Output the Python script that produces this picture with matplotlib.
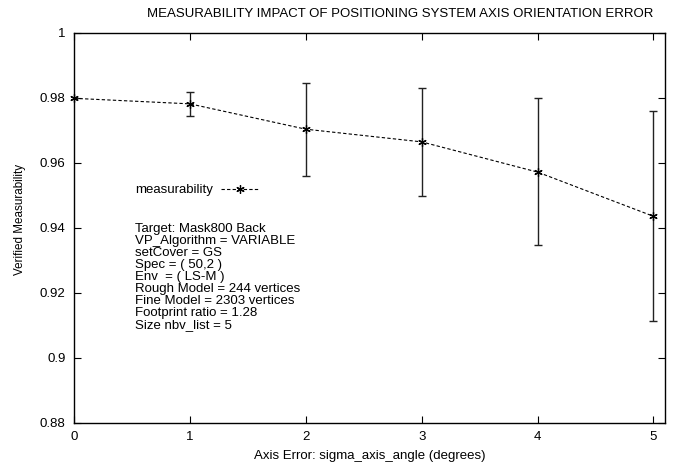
import matplotlib
matplotlib.use('Agg')
import matplotlib.pyplot as plt

# axis error (degrees) vs verified measurability, with min/max spread
sigma = [0, 1, 2, 3, 4, 5]
measurability = [0.9799, 0.9782, 0.9704, 0.9665, 0.9572, 0.9436]
err_low = [0.9799, 0.9746, 0.9561, 0.9498, 0.9347, 0.9115]
err_high = [0.9799, 0.9819, 0.9847, 0.9832, 0.9799, 0.9759]

y_ticks = [0.88, 0.9, 0.92, 0.94, 0.96, 0.98, 1]
y_labels = ['0.88', '0.9', '0.92', '0.94', '0.96', '0.98', '1']

info_lines = [
    'Target: Mask800 Back',
    'VP_Algorithm = VARIABLE',
    'setCover = GS',
    'Spec = ( 50,2 )',
    'Env  = ( LS-M )',
    'Rough Model = 244 vertices',
    'Fine Model = 2303 vertices',
    'Footprint ratio = 1.28',
    'Size nbv_list = 5',
]

FS = 9.5
plt.rcParams['font.family'] = ['Liberation Sans', 'DejaVu Sans']
plt.rcParams['font.size'] = FS

fig = plt.figure(figsize=(6.8, 4.7), dpi=100)
ax = fig.add_axes([0.1088, 0.1, 0.978 - 0.1088, 0.9298 - 0.1])

yerr = [[m - lo for m, lo in zip(measurability, err_low)],
        [hi - m for m, hi in zip(measurability, err_high)]]
ax.errorbar(sigma, measurability, yerr=yerr, fmt='none', ecolor='#222222',
            elinewidth=1.0, capsize=3, capthick=1.0)
ax.plot(sigma, measurability, color='black', linestyle=(0, (3, 2)), linewidth=0.8,
        marker=(6, 2, 0), markersize=6, markeredgewidth=0.9,
        label='measurability', clip_on=False, zorder=5)

ax.set_xlim(0, 5.1)
ax.set_ylim(0.88, 1)
ax.set_xticks(sigma)
ax.set_xticklabels([str(s) for s in sigma])
ax.set_yticks(y_ticks)
ax.set_yticklabels(y_labels)
ax.tick_params(direction='in', top=True, right=True, length=5, width=0.8,
               labelsize=FS)
ax.tick_params(axis='x', pad=6)
ax.tick_params(axis='y', pad=6)
for sp in ax.spines.values():
    sp.set_linewidth(1.0)

fig.text(0.588, 0.970,
         'MEASURABILITY IMPACT OF POSITIONING SYSTEM AXIS ORIENTATION ERROR',
         fontsize=FS, ha='center', va='center')
ax.set_xlabel('Axis Error: sigma_axis_angle (degrees)', fontsize=FS, labelpad=5)
fig.text(20 / 680, 1 - 219 / 470, 'Verified Measurability', fontsize=8.4,
         rotation=90, ha='center', va='center')

ax.legend(loc='center left', bbox_to_anchor=(0.095, 0.597), frameon=False,
          markerfirst=False, handlelength=2.9, handletextpad=0.55,
          numpoints=1, fontsize=FS, borderaxespad=0)

ax.text(0.103, 0.512, '\n'.join(info_lines), transform=ax.transAxes,
        fontsize=FS, va='top', ha='left', linespacing=1.0)

fig.savefig('out.png', dpi=100)
